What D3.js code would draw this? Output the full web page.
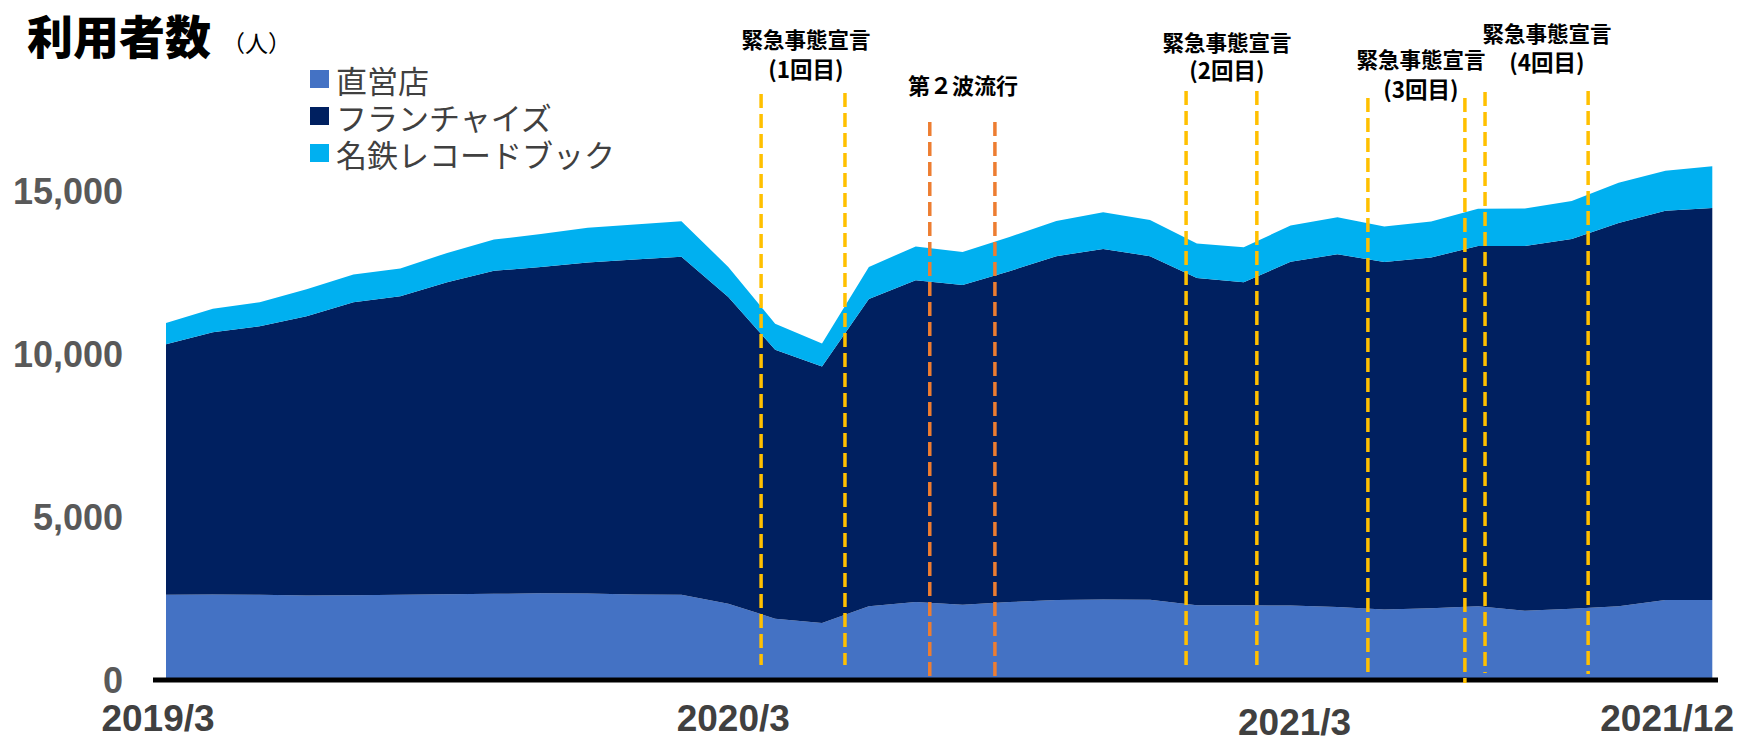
<!DOCTYPE html>
<html><head><meta charset="utf-8">
<script src="https://cdn.jsdelivr.net/npm/d3@7/dist/d3.min.js"></script>
<style>
html,body{margin:0;padding:0;background:#fff;}
svg{display:block;}
</style></head>
<body>
<svg id="chart" width="1738" height="739"></svg>
<script>
// ---- data ----
const months = ["2019/3","2019/4","2019/5","2019/6","2019/7","2019/8","2019/9","2019/10","2019/11","2019/12",
  "2020/1","2020/2","2020/3","2020/4","2020/5","2020/6","2020/7","2020/8","2020/9","2020/10","2020/11","2020/12",
  "2021/1","2021/2","2021/3","2021/4","2021/5","2021/6","2021/7","2021/8","2021/9","2021/10","2021/11","2021/12"];
const direct    = [2610,2620,2610,2590,2600,2610,2630,2640,2660,2650,2620,2610,2340,1880,1750,2260,2390,2310,2390,2450,2470,2460,2290,2290,2280,2240,2160,2200,2260,2120,2180,2260,2450,2450];
const franchise = [7680,8040,8230,8560,8980,9150,9560,9900,10000,10150,10270,10360,9400,8240,7860,9420,9860,9800,10140,10540,10740,10530,10030,9900,10540,10810,10650,10750,11040,11180,11340,11750,11930,12020];
const meitetsu  = [650,720,740,830,850,850,900,960,1010,1060,1070,1090,920,800,700,980,1040,1010,1050,1080,1130,1110,1060,1070,1110,1130,1090,1100,1140,1150,1160,1230,1230,1280];
const seriesNames = ["直営店","フランチャイズ","名鉄レコードブック"];
const yTicks = [0,5000,10000,15000];
const xTickLabels = ["2019/3","2020/3","2021/3","2021/12"];
// event periods (positions in month-index units)
const eventLines = [12.70,14.49,21.77,23.28,25.65,27.72,28.15,30.35];
const wave2Lines = [16.30,17.69];
const eventTitles = ["緊急事態宣言","緊急事態宣言","緊急事態宣言","緊急事態宣言"];
const eventSubs = ["(1回目)","(2回目)","(3回目)","(4回目)"];
const wave2Title = "第２波流行";

// ---- layout / style ----
const W = 1738, H = 739;
const colors = ["#4472C4","#002060","#00B0F0"];
const x = d3.scaleLinear().domain([0, months.length-1]).range([166, 1712.3]);
const y = d3.scaleLinear().domain([0, 15000]).range([680, 190.6]);
const svg = d3.select("#chart");
const jp = "'Noto Sans CJK JP','Noto Sans',sans-serif";
const num = "'Liberation Sans',Arial,sans-serif";

const table = months.map((m,i)=>({i, d:direct[i], f:franchise[i], m:meitetsu[i]}));
const stack = d3.stack().keys(["d","f","m"])(table);
const area = d3.area().x(d=>x(d.data.i)).y0(d=>y(d[0])).y1(d=>y(d[1]));
svg.append("g").selectAll("path").data(stack).join("path")
  .attr("d", area).attr("fill", (d,k)=>colors[k]);

// baseline
svg.append("line").attr("x1",153).attr("x2",1718).attr("y1",y(0)).attr("y2",y(0))
  .attr("stroke","#000").attr("stroke-width",5);

// y axis labels
const yAxis = d3.axisLeft(y).tickValues(yTicks).tickFormat(d3.format(",")).tickSize(0).tickPadding(0);
const ga = svg.append("g").attr("transform","translate(123,0)").call(yAxis);
ga.select(".domain").remove();
ga.selectAll("text").attr("font-family",num).attr("font-size",36).attr("font-weight","bold")
  .attr("fill","#595959").attr("dy","0.36em");

// x labels
const xNudge = {"2019/3":-8,"2020/3":5,"2021/3":4,"2021/12":0};
const xDrop = {"2021/3":4};
xTickLabels.forEach(lbl=>{
  const i = months.indexOf(lbl);
  const t = svg.append("text").text(lbl)
    .attr("font-family",num).attr("font-size",37).attr("font-weight","bold").attr("fill","#404040")
    .attr("text-anchor","middle").attr("y",731+(xDrop[lbl]||0));
  let cx = x(i)+(xNudge[lbl]||0);
  const w = t.node().getComputedTextLength();
  if (cx + w/2 > W-4) cx = W-4-w/2;
  t.attr("x",cx);
});

// dashed event lines
const lineTops = [94,93,91,91,98,98,92,91];
const lineBots = [665,665,670,671,678,683,673,674];
eventLines.forEach((p,k)=>{
  svg.append("line").attr("x1",x(p)).attr("x2",x(p)).attr("y1",lineTops[k]).attr("y2",lineBots[k])
    .attr("stroke","#FFC000").attr("stroke-width",3.5).attr("stroke-dasharray","14 6");
});
wave2Lines.forEach(p=>{
  svg.append("line").attr("x1",x(p)).attr("x2",x(p)).attr("y1",122).attr("y2",681)
    .attr("stroke","#ED7D31").attr("stroke-width",3.5).attr("stroke-dasharray","14 6");
});

// event labels (two-line text blocks)
const evLabelPos = [[806,38.5,67.5],[1227,41.7,69],[1421,58,87.5],[1547,32,61]];
eventTitles.forEach((t,k)=>{
  const [cx,y1,y2] = evLabelPos[k];
  const tx = svg.append("text").attr("text-anchor","middle").attr("font-family",jp)
    .attr("font-weight","bold").attr("fill","#000");
  tx.append("tspan").text(t).attr("x",cx).attr("y",y1).attr("dominant-baseline","central").attr("font-size",21.5);
  tx.append("tspan").text(eventSubs[k]).attr("x",cx).attr("y",y2).attr("dominant-baseline","central").attr("font-size",22.5);
});
svg.append("text").text(wave2Title).attr("x",963).attr("y",83.5).attr("text-anchor","middle")
  .attr("dominant-baseline","central").attr("font-family",jp).attr("font-size",22).attr("font-weight","bold").attr("fill","#000");

// title
svg.append("text").text("利用者数").attr("x",27).attr("y",34).attr("dominant-baseline","central")
  .attr("font-family",jp).attr("font-size",46).attr("font-weight",900).attr("fill","#000");
svg.append("text").text("（人）").attr("x",222).attr("y",42).attr("dominant-baseline","central")
  .attr("font-family",jp).attr("font-size",23).attr("fill","#000");

// legend
const legY = [79,116,153];
const lg = svg.append("g");
seriesNames.forEach((n,k)=>{
  lg.append("rect").attr("x",310).attr("y",legY[k]-9).attr("width",19).attr("height",18).attr("fill",colors[k]);
});
const lt = lg.append("text").attr("font-family",jp).attr("font-size",31).attr("fill","#404040");
seriesNames.forEach((n,k)=>{
  lt.append("tspan").text(n).attr("x",336).attr("y",legY[k]).attr("dominant-baseline","central");
});
</script>
</body></html>
